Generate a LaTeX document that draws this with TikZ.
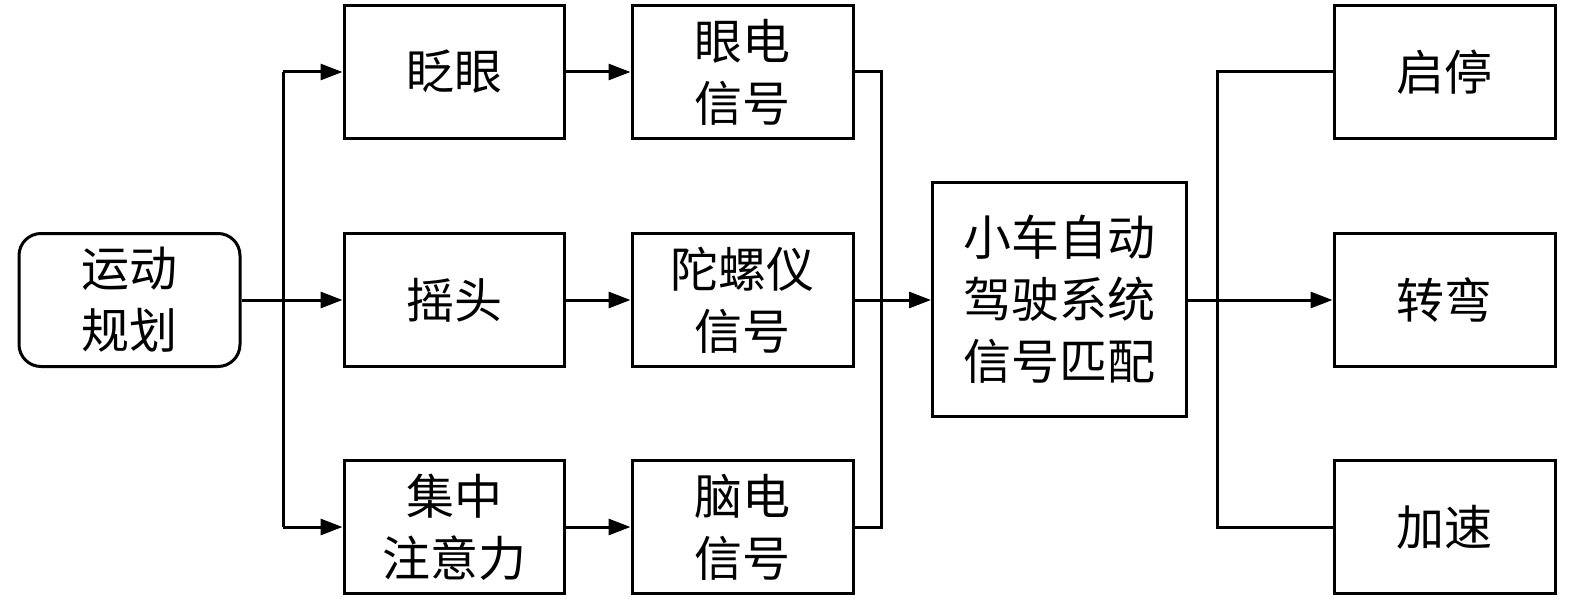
\documentclass[tikz,border=0pt]{standalone}
\usepackage{fontspec}
\setmainfont{Noto Sans CJK SC}
\usetikzlibrary{arrows.meta}
\tikzset{
  box/.style={draw, line width=3pt, inner sep=0pt, align=center, font=\fontsize{48}{62}\selectfont},
  wire/.style={line width=3pt},
  arr/.style={wire, -{Triangle[length=22pt,width=16pt]}},
}
\begin{document}
\begin{tikzpicture}[x=1pt,y=-1pt]
\useasboundingbox (0,0) rectangle (1575,602);
% nodes
\node[box, rounded corners=22pt, minimum width=221pt, minimum height=133pt] (plan) at (129.5,300) {运动\\规划};
\node[box, minimum width=220pt, minimum height=133pt] (blink) at (454,72) {眨眼};
\node[box, minimum width=220pt, minimum height=133pt] (shake) at (454,300) {摇头};
\node[box, minimum width=220pt, minimum height=133pt] (focus) at (454,527) {集中\\注意力};
\node[box, minimum width=221pt, minimum height=133pt] (eog) at (742.5,72) {眼电\\信号};
\node[box, minimum width=221pt, minimum height=133pt] (gyro) at (742.5,300) {陀螺仪\\信号};
\node[box, minimum width=221pt, minimum height=133pt] (eeg) at (742.5,527) {脑电\\信号};
\node[box, minimum width=254pt, minimum height=234pt] (car) at (1059.5,299) {小车自动\\驾驶系统\\信号匹配};
\node[box, minimum width=221pt, minimum height=133pt] (start) at (1444.5,72) {启停};
\node[box, minimum width=221pt, minimum height=133pt] (turn) at (1444.5,300) {转弯};
\node[box, minimum width=221pt, minimum height=133pt] (accel) at (1444.5,527) {加速};
% junction coordinates
\coordinate (j1t) at (283,72);
\coordinate (j1b) at (283,527);
\coordinate (j2t) at (881,72);
\coordinate (j2b) at (881,527);
\coordinate (j3t) at (1217,72);
\coordinate (j3b) at (1217,527);
% left fan-out
\draw[wire] (j1t) -- (j1b);
\draw[arr] (plan.east) -- (shake.west);
\draw[arr] (j1t) -- (blink.west);
\draw[arr] (j1b) -- (focus.west);
% column 2 to column 3
\draw[arr] (blink.east) -- (eog.west);
\draw[arr] (shake.east) -- (gyro.west);
\draw[arr] (focus.east) -- (eeg.west);
% merge
\draw[wire] (eog.east) -- (j2t) -- (j2b) -- (eeg.east);
\draw[arr] (gyro.east) -- (car.west |- gyro.east);
% right fan-out
\draw[wire] (start.west) -- (j3t) -- (j3b) -- (accel.west);
\draw[arr] (car.east |- turn.west) -- (turn.west);
\end{tikzpicture}
\end{document}
